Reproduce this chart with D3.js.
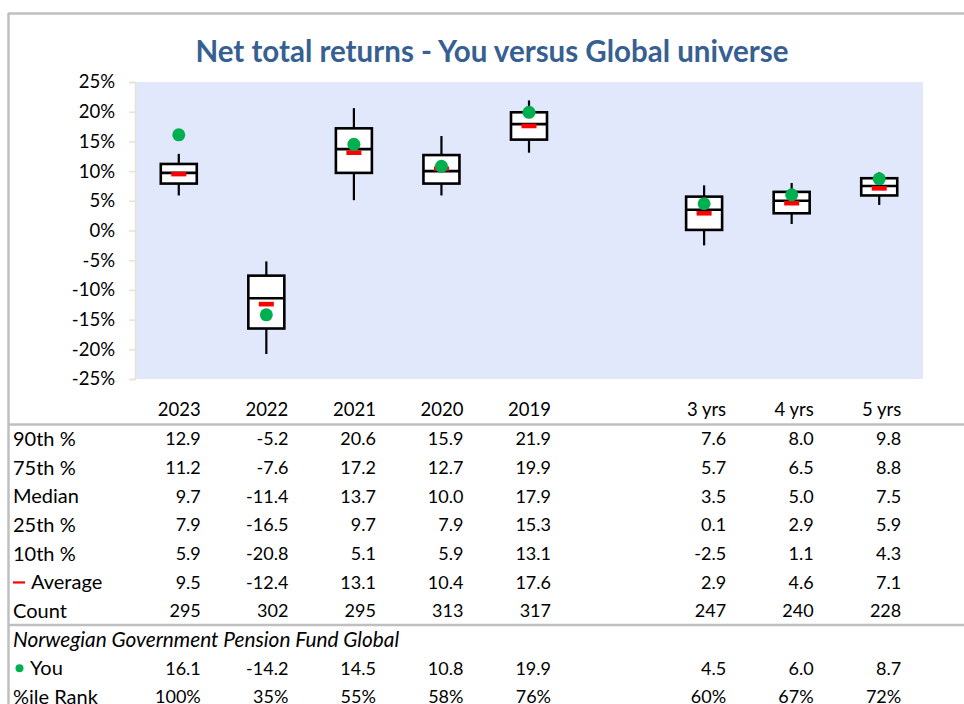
<!DOCTYPE html>
<html>
<head>
<meta charset="utf-8">
<script src="https://cdn.jsdelivr.net/npm/d3@7"></script>
<style>
  body { margin: 0; background: #fff; }
  text { font-family: Lato, "Open Sans", sans-serif; fill: #000; }
</style>
</head>
<body>
<div id="chart"></div>
<script>
// periods shown on the chart (a blank slot sits between 2019 and 3 yrs)
var periods = ["2023", "2022", "2021", "2020", "2019", "3 yrs", "4 yrs", "5 yrs"]
var slots = ["2023", "2022", "2021", "2020", "2019", "gap", "3 yrs", "4 yrs", "5 yrs"]

var p90 = [12.9, -5.2, 20.6, 15.9, 21.9, 7.6, 8.0, 9.8]
var p75 = [11.2, -7.6, 17.2, 12.7, 19.9, 5.7, 6.5, 8.8]
var median = [9.7, -11.4, 13.7, 10.0, 17.9, 3.5, 5.0, 7.5]
var p25 = [7.9, -16.5, 9.7, 7.9, 15.3, 0.1, 2.9, 5.9]
var p10 = [5.9, -20.8, 5.1, 5.9, 13.1, -2.5, 1.1, 4.3]
var average = [9.5, -12.4, 13.1, 10.4, 17.6, 2.9, 4.6, 7.1]
var count = [295, 302, 295, 313, 317, 247, 240, 228]
var you = [16.1, -14.2, 14.5, 10.8, 19.9, 4.5, 6.0, 8.7]
var rank = ["100%", "35%", "55%", "58%", "76%", "60%", "67%", "72%"]

var yTicks = [25, 20, 15, 10, 5, 0, -5, -10, -15, -20, -25]

var width = 964, height = 704

var svg = d3.select("#chart")
    .append("svg")
    .attr("width", width)
    .attr("height", height)

// outer frame (top and left edges visible)
svg.append("line")
    .attr("x1", 8).attr("x2", width).attr("y1", 13.5).attr("y2", 13.5)
    .attr("stroke", "#bfbfbf").attr("stroke-width", 2.5)
svg.append("line")
    .attr("x1", 8.5).attr("x2", 8.5).attr("y1", 13).attr("y2", height)
    .attr("stroke", "#bfbfbf").attr("stroke-width", 2.5)

// title
svg.append("text")
    .attr("x", 492)
    .attr("y", 62)
    .attr("text-anchor", "middle")
    .style("font-size", "29.5px")
    .style("font-weight", "bold")
    .style("fill", "#376092")
    .text("Net total returns - You versus Global universe")

// scales
var x = d3.scaleBand()
    .domain(slots)
    .range([135, 923])

var y = d3.scaleLinear()
    .domain([-25, 25])
    .range([379, 82])

// plain hyphen for negatives, like the source
var num1 = function (d) { return d3.format(".1f")(d).replace("\u2212", "-") }

// plot background
svg.append("rect")
    .attr("x", x.range()[0])
    .attr("y", y(25))
    .attr("width", x.range()[1] - x.range()[0])
    .attr("height", y(-25) - y(25))
    .attr("fill", "#e1e8fb")

// y axis
var yAxis = svg.append("g")
    .attr("transform", "translate(135,0)")
    .call(d3.axisLeft(y)
        .tickValues(yTicks)
        .tickSize(6)
        .tickPadding(14)
        .tickFormat(function (d) { return d + "%" }))
yAxis.select(".domain").attr("stroke", "#e6e2d6").attr("stroke-width", 1.5)
yAxis.selectAll(".tick line").attr("stroke", "#e6e2d6").attr("stroke-width", 1.5)
yAxis.selectAll(".tick text")
    .style("font-size", "18.5px")
    .style("font-family", "Lato, sans-serif")
    .attr("fill", "#000")

// box data
var boxes = periods.map(function (p, i) {
    return {
        period: p, p90: p90[i], p75: p75[i], median: median[i],
        p25: p25[i], p10: p10[i], average: average[i], you: you[i]
    }
})

var boxW = 36
var g = svg.append("g").selectAll("g")
    .data(boxes)
    .enter()
    .append("g")
    .attr("transform", function (d) {
        return "translate(" + (x(d.period) + x.bandwidth() / 2) + ",0)"
    })

// whiskers
g.append("line")
    .attr("y1", function (d) { return y(d.p90) })
    .attr("y2", function (d) { return y(d.p10) })
    .attr("stroke", "#000")
    .attr("stroke-width", 2.2)

// box
g.append("rect")
    .attr("x", -boxW / 2)
    .attr("width", boxW)
    .attr("y", function (d) { return y(d.p75) })
    .attr("height", function (d) { return y(d.p25) - y(d.p75) })
    .attr("fill", "#fff")
    .attr("stroke", "#000")
    .attr("stroke-width", 2.6)

// median
g.append("line")
    .attr("x1", -boxW / 2)
    .attr("x2", boxW / 2)
    .attr("y1", function (d) { return y(d.median) })
    .attr("y2", function (d) { return y(d.median) })
    .attr("stroke", "#000")
    .attr("stroke-width", 2.6)

// average marker
g.append("rect")
    .attr("x", -7.5)
    .attr("width", 15)
    .attr("y", function (d) { return y(d.average) - 2.3 })
    .attr("height", 4.6)
    .attr("fill", "#ff0000")

// you
g.append("circle")
    .attr("r", 6.5)
    .attr("cy", function (d) { return y(d.you) })
    .attr("fill", "#00b050")

// table
var rowH = 28.67
var table = svg.append("g").style("font-size", "18px")

function colX(p) { return x(p) + x.bandwidth() / 2 + 22 }

table.selectAll(".head")
    .data(periods)
    .enter()
    .append("text")
    .attr("x", colX)
    .attr("y", 410)
    .attr("dy", "0.35em")
    .attr("text-anchor", "end")
    .style("font-size", "18.5px")
    .text(function (d) { return d })

svg.append("line")
    .attr("x1", 8).attr("x2", width).attr("y1", 424.5).attr("y2", 424.5)
    .attr("stroke", "#bfbfbf").attr("stroke-width", 2.5)

var rows = [
    { label: "90th %", vals: p90, fmt: num1 },
    { label: "75th %", vals: p75, fmt: num1 },
    { label: "Median", vals: median, fmt: num1 },
    { label: "25th %", vals: p25, fmt: num1 },
    { label: "10th %", vals: p10, fmt: num1 },
    { label: "Average", vals: average, fmt: num1, mark: "avg" },
    { label: "Count", vals: count, fmt: d3.format("d") },
    { label: "Norwegian Government Pension Fund Global", vals: null, italic: true },
    { label: "You", vals: you, fmt: num1, mark: "you" },
    { label: "%ile Rank", vals: rank, fmt: function (d) { return d } }
]

rows.forEach(function (r, i) {
    var cy = 439 + i * rowH
    var lx = 13
    if (r.mark === "avg") {
        table.append("rect")
            .attr("x", 13).attr("y", cy - 1).attr("width", 12).attr("height", 2.2)
            .attr("fill", "#ff0000")
        lx = 31
    }
    if (r.mark === "you") {
        table.append("circle")
            .attr("cx", 19.5).attr("cy", cy).attr("r", 4)
            .attr("fill", "#00b050")
        lx = 30
    }
    table.append("text")
        .attr("x", lx)
        .attr("y", cy)
        .attr("dy", "0.35em")
        .style("font-size", r.italic ? "20.8px" : "20px")
        .style("font-style", r.italic ? "italic" : "normal")
        .text(r.label)
    if (r.vals) {
        table.selectAll(null)
            .data(r.vals)
            .enter()
            .append("text")
            .attr("x", function (d, j) { return colX(periods[j]) })
            .attr("y", cy)
            .attr("dy", "0.35em")
            .attr("text-anchor", "end")
            .text(r.fmt)
    }
})

svg.append("line")
    .attr("x1", 8).attr("x2", width).attr("y1", 625).attr("y2", 625)
    .attr("stroke", "#bfbfbf").attr("stroke-width", 2.5)
</script>
</body>
</html>
